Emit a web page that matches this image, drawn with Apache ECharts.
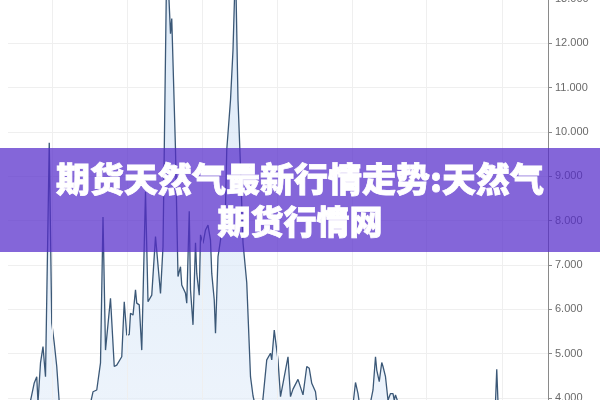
<!DOCTYPE html>
<html>
<head>
<meta charset="utf-8">
<script src="https://cdn.jsdelivr.net/npm/echarts@6/dist/echarts.min.js"></script>
<style>html,body{margin:0;padding:0;background:#fff}#c{width:600px;height:400px}</style>
</head>
<body>
<div id="c"></div>
<script>
// trading-day index (x) and price (y)
const days = [-35,-25,-18,-14,-12,-11,-9,-7,-5,-2,0,2,4,6,12,20,30,33,36,39,41,43,47,50,52,56,58,60,62,63,65,67,68,70,72,75,77,80,83,87,89,92,93,95,96,99,100,101,103,104,107,108,110,111,113,115,116,118,119,121,123,125,127,128,130,131,133,135,136,139,140,143,145,147,149,151,153,156,159,161,163,168,172,175,176,178,181,183,185,189,191,193,197,198,201,204,206,208,211,212,220,232,241,243,245,246,252,255,257,259,260,262,264,265,267,269,271,273,274,275,277,290,310,330,350,355,356,357,370,385,397];
const prices = [3.6,3.7,3.8,4.34,4.48,3.9,4.79,5.16,4.48,9.76,5.69,5.24,4.71,3.9,3.7,3.6,3.75,4.14,4.18,4.79,8.08,5.08,6.25,4.71,4.74,4.93,6.17,5.42,5.43,5.91,5.87,6.44,6.14,6.10,5.08,8.65,6.17,6.32,7.64,6.36,7.41,13.9,13.5,12.22,12.56,9.6,8.17,6.74,6.96,6.55,6.36,6.14,8.21,6.44,5.65,7.5,6.81,6.32,7.68,7.49,7.79,7.9,7.56,6.81,6.21,5.46,7.19,7.56,7.71,8.32,9.6,10.72,11.85,13.8,10.72,9.22,7.5,6.6,4.48,4.05,3.8,3.7,4.86,5.01,4.86,5.53,4.86,4.03,4.33,4.93,4.03,4.2,4.42,4.4,4.07,4.71,4.67,4.33,4.14,3.9,3.7,3.6,3.85,4.35,4.1,3.9,3.7,3.9,4.18,4.93,4.63,4.37,4.8,4.71,4.48,3.95,4.1,4.1,3.95,4.07,3.9,3.7,3.6,3.75,3.7,3.9,4.65,3.9,3.7,3.6,3.7];
const xGridDays = [0,60,120,180,240,300,360];
const titleLines = ['期货天然气最新行情走势:天然气','期货行情网'];

const chart = echarts.init(document.getElementById('c'), null, {renderer:'canvas'});
chart.setOption({
  animation:false,
  backgroundColor:'#ffffff',
  grid:{left:8, right:52, top:-45.3, bottom:-42.3, outerBoundsMode:'none', containLabel:false},
  xAxis:{type:'value', min:-35, max:397, show:true,
    axisLine:{show:false, onZero:false}, axisTick:{show:false}, axisLabel:{show:false}, splitLine:{show:false}},
  yAxis:{type:'value', position:'right', min:3, max:14, interval:1,
    axisLine:{show:true, onZero:false, lineStyle:{color:'#8a8a8a', width:1}},
    axisTick:{show:true, length:4, lineStyle:{color:'#8a8a8a'}},
    axisLabel:{show:true, margin:7, color:'#6a6a6a', fontSize:11, fontFamily:'Liberation Sans, Arial, sans-serif',
      formatter:v=>v.toFixed(3)},
    splitLine:{show:true, lineStyle:{color:'#efefef', width:1}}},
  series:[
    {type:'line', data:[], z:1, silent:true,
      markLine:{silent:true, symbol:'none', label:{show:false},
        lineStyle:{color:'#efefef', width:1, type:'solid'},
        data:xGridDays.map(d=>({xAxis:d}))}},
    {type:'line', z:2, data:days.map((d,i)=>[d,prices[i]]), symbol:'none', smooth:false,
      lineStyle:{color:'#3b5877', width:1.3},
      areaStyle:{color:new echarts.graphic.LinearGradient(0,0,0,1,[{offset:0,color:'rgba(200,221,243,0.85)'},{offset:1,color:'rgba(228,238,250,0.9)'}])}}
  ],
  graphic:[
    {type:'rect', zlevel:1, z:100, shape:{x:0, y:148, width:600, height:104}, style:{fill:'rgba(84,43,202,0.72)'}},
    {type:'text', zlevel:1, z:101, x:300, y:179.5, style:{text:titleLines[0], fill:'#ffffff', stroke:'#ffffff', lineWidth:0.8, font:'900 34px "Noto Sans CJK SC", sans-serif', align:'center', verticalAlign:'middle'}},
    {type:'text', zlevel:1, z:101, x:300, y:221, style:{text:titleLines[1], fill:'#ffffff', stroke:'#ffffff', lineWidth:0.8, font:'900 33px "Noto Sans CJK SC", sans-serif', align:'center', verticalAlign:'middle'}}
  ]
});
</script>
</body>
</html>
